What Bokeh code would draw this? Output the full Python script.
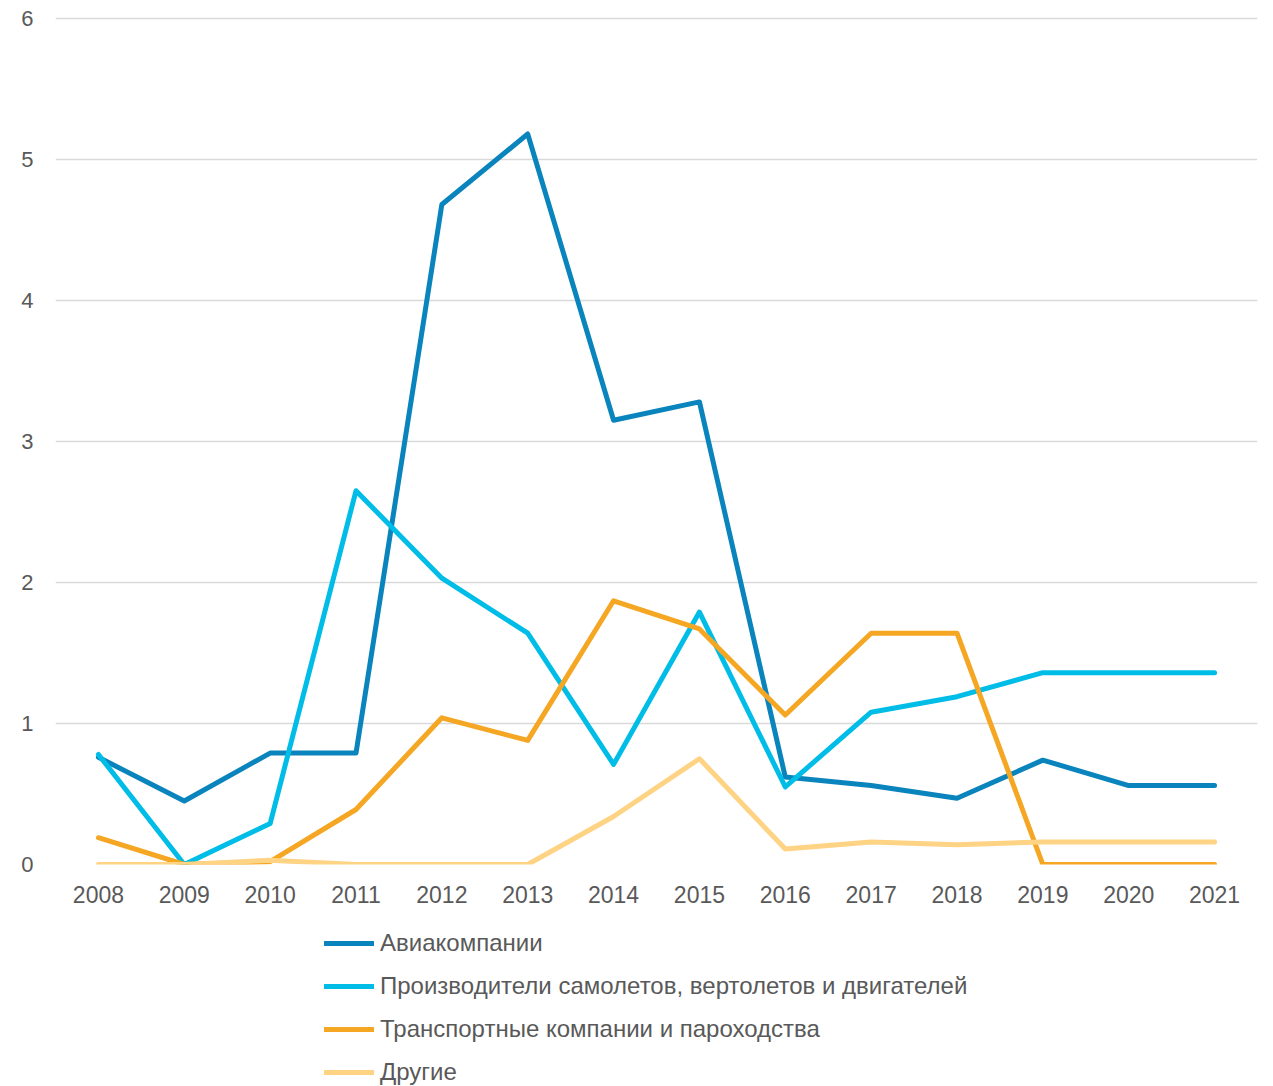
from bokeh.plotting import figure
from bokeh.models import Legend, LegendItem, FactorRange
from bokeh.layouts import column
from bokeh.embed import file_html
from bokeh.resources import INLINE

years = ["2008", "2009", "2010", "2011", "2012", "2013", "2014", "2015",
         "2016", "2017", "2018", "2019", "2020", "2021"]
airlines = [0.76, 0.45, 0.79, 0.79, 4.68, 5.18, 3.15, 3.28, 0.62, 0.56, 0.47, 0.74, 0.56, 0.56]
manufacturers = [0.78, 0.0, 0.29, 2.65, 2.03, 1.64, 0.71, 1.79, 0.55, 1.08, 1.19, 1.36, 1.36, 1.36]
transport = [0.19, 0.0, 0.02, 0.39, 1.04, 0.88, 1.87, 1.67, 1.06, 1.64, 1.64, 0.0, 0.0, 0.0]
others = [0.0, 0.0, 0.03, 0.0, 0.0, 0.0, 0.34, 0.75, 0.11, 0.16, 0.14, 0.16, 0.16, 0.16]

names = ["Авиакомпании", "Производители самолетов, вертолетов и двигателей",
         "Транспортные компании и пароходства", "Другие"]
colors = ["#0a84bc", "#00bde8", "#f5a623", "#fed384"]
series = [airlines, manufacturers, transport, others]
y_ticks = [0, 1, 2, 3, 4, 5, 6]

FONT = "Liberation Sans"
GRAY = "#595959"
LW = 5

p = figure(x_range=FactorRange(*years, range_padding=0), y_range=(0, 6.02),
           width=1265, height=914, output_backend="svg", toolbar_location=None,
           min_border_left=55, min_border_right=8, min_border_top=15, min_border_bottom=50)
p.outline_line_color = None
p.xgrid.grid_line_color = None
p.ygrid.grid_line_color = "#d9d9d9"
p.ygrid.grid_line_width = 1.5
p.yaxis.ticker = y_ticks

for ax in (p.xaxis, p.yaxis):
    ax.axis_line_color = None
    ax.major_tick_line_color = None
    ax.minor_tick_line_color = None
    ax.major_label_text_font = FONT
    ax.major_label_text_color = GRAY
p.xaxis.major_label_text_font_size = "23px"
p.yaxis.major_label_text_font_size = "22px"
p.yaxis.major_label_standoff = 16
p.xaxis.major_label_standoff = 15

for col, vals in zip(colors, series):
    p.line(years, vals, line_color=col, line_width=LW,
           line_cap="round", line_join="round")

# legend panel beneath the chart
pl = figure(x_range=(0, 1), y_range=(0, 1), width=1265, height=172,
            output_backend="svg", toolbar_location=None,
            x_axis_location=None, y_axis_location=None,
            min_border_left=0, min_border_right=0, min_border_top=0, min_border_bottom=0)
pl.outline_line_color = None
pl.grid.grid_line_color = None
items = []
for name, col in zip(names, colors):
    r = pl.line([-5, -4], [-5, -5], line_color=col, line_width=LW, line_cap="round")
    items.append(LegendItem(label=name, renderers=[r]))
legend = Legend(items=items, orientation="vertical", location=(269, 0),
                glyph_width=50, glyph_height=28, label_height=28, label_standoff=6,
                spacing=15, label_text_font=FONT, label_text_font_size="24px",
                label_text_color=GRAY, border_line_color=None,
                background_fill_alpha=0, margin=0, padding=0)
pl.add_layout(legend)

open("out.html", "w").write(file_html(column(p, pl, spacing=0), INLINE))
